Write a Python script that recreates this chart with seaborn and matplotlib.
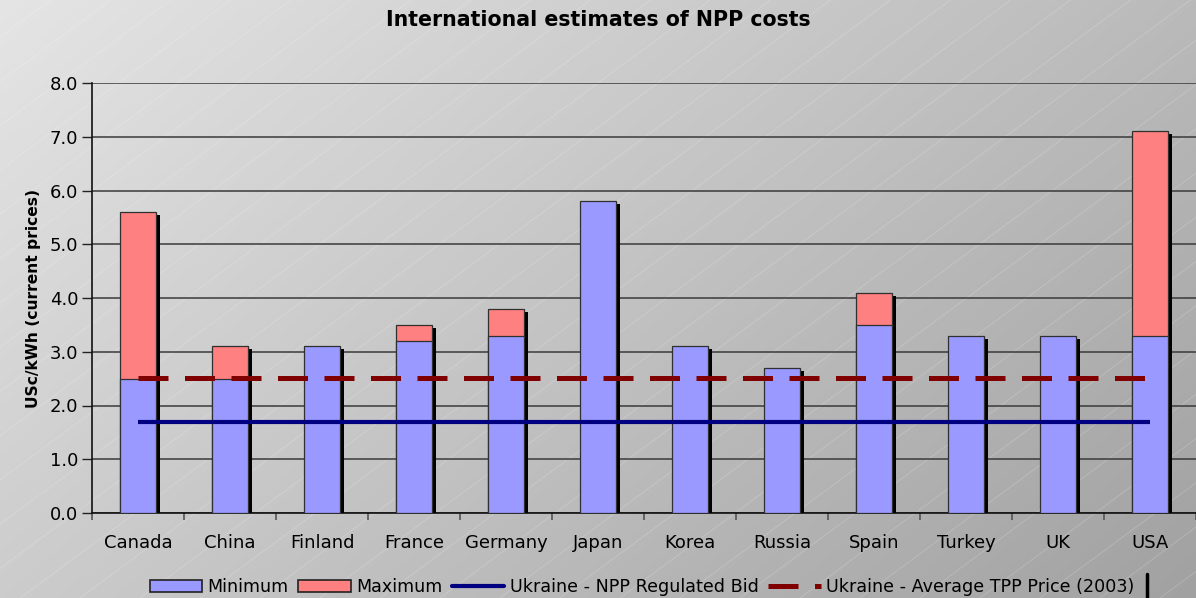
import numpy as np
import pandas as pd
import matplotlib
matplotlib.use("Agg")
import matplotlib.pyplot as plt
import matplotlib.patheffects as pe
from matplotlib.lines import Line2D
from matplotlib.patches import Patch
import seaborn as sns

# Generation cost estimates, US cents per kWh (current prices)
countries = ["Canada", "China", "Finland", "France", "Germany", "Japan",
             "Korea", "Russia", "Spain", "Turkey", "UK", "USA"]
minimum = [2.5, 2.5, 3.1, 3.2, 3.3, 5.8, 3.1, 2.7, 3.5, 3.3, 3.3, 3.3]
maximum = [5.6, 3.1, None, 3.5, 3.8, None, None, None, 4.1, None, None, 7.1]
npp_bid = [1.69, 1.69, 1.69, 1.69, 1.69, 1.69, 1.69, 1.69, 1.69, 1.69, 1.69, 1.69]
tpp_price = [2.52, 2.52, 2.52, 2.52, 2.52, 2.52, 2.52, 2.52, 2.52, 2.52, 2.52, 2.52]
y_ticks = [0, 1, 2, 3, 4, 5, 6, 7, 8]

BLUE_BAR = "#9999ff"
RED_BAR = "#ff8080"
NAVY = "#000080"
MAROON = "#800000"

sns.set_theme(style="white")
plt.rcParams["font.family"] = ["DejaVu Sans"]
plt.rcParams["text.color"] = "black"
plt.rcParams["axes.labelcolor"] = "black"
plt.rcParams["xtick.color"] = "black"
plt.rcParams["ytick.color"] = "black"

W, H, DPI = 1196, 598, 100
fig = plt.figure(figsize=(W / DPI, H / DPI), dpi=DPI)

# Grey gradient backdrop (light top-left, darker bottom-right) with faint hatch lines
bg = fig.add_axes([0, 0, 1, 1], zorder=-10)
yy, xx = np.mgrid[0:H, 0:W]
shade = 229 - 43 * (xx / W) - 25 * (yy / H)
bg.imshow(np.dstack([shade] * 3).astype(np.uint8), aspect="auto",
          extent=(0, W, H, 0), interpolation="bilinear")
for x0 in np.arange(-820, W + 60, 60):
    bg.plot([x0, x0 + 820], [H, H - 605], color="white", lw=0.6, alpha=0.2)
bg.set_xlim(0, W)
bg.set_ylim(H, 0)
bg.axis("off")

ax = fig.add_axes([92 / W, (H - 513) / H, (W - 92) / W, 430 / H])
ax.set_facecolor("none")

df_min = pd.DataFrame({"country": countries, "value": minimum})
df_max = pd.DataFrame({"country": countries, "value": maximum}).dropna()

shadow = [pe.SimplePatchShadow(offset=(2.9, -2.2), shadow_rgbFace="black", alpha=1.0),
          pe.Normal()]

sns.barplot(data=df_max, x="country", y="value", order=countries, color=RED_BAR,
            saturation=1, width=0.4, errorbar=None, edgecolor="#303030",
            linewidth=0.9, ax=ax, zorder=3)
n_red = len(ax.patches)
sns.barplot(data=df_min, x="country", y="value", order=countries, color=BLUE_BAR,
            saturation=1, width=0.4, errorbar=None, edgecolor="#303030",
            linewidth=0.9, ax=ax, zorder=4)
for i, p in enumerate(ax.patches):
    p.set_path_effects(shadow)
    p.set_zorder(3 if i < n_red else 4)

xpos = np.arange(len(countries))
sns.lineplot(x=xpos, y=npp_bid, color=NAVY, lw=3.0, ax=ax, zorder=6,
             solid_capstyle="butt")
sns.lineplot(x=xpos, y=tpp_price, color=MAROON, lw=3.6, ax=ax, zorder=6,
             solid_capstyle="butt")
ax.lines[-1].set_linestyle((0, (6.0, 3.3)))
ax.lines[-1].set_dash_capstyle("butt")

ax.set_xlim(-0.5, len(countries) - 0.5)
ax.set_ylim(0, 8)
ax.set_yticks(y_ticks)
ax.set_yticklabels([f"{v:.1f}" for v in y_ticks], fontsize=13)
ax.yaxis.grid(True, color="#3a3a3a", lw=1.1, zorder=1)
ax.set_axisbelow(True)
ax.set_xticks(xpos)
ax.set_xticklabels(countries, fontsize=13)
ax.set_xticks(np.arange(len(countries) + 1) - 0.5, minor=True)
ax.tick_params(axis="x", which="major", length=0, pad=15)
ax.tick_params(axis="x", which="minor", length=5, width=1.2, color="#555555",
               direction="out", bottom=True)
ax.tick_params(axis="y", length=7, width=1.0, color="#222222", left=True,
               direction="out", pad=3)
for side in ("top", "right"):
    ax.spines[side].set_visible(False)
for side in ("left", "bottom"):
    ax.spines[side].set_color("#111111")
    ax.spines[side].set_linewidth(1.2)
ax.set_xlabel("")
ax.set_ylabel("USc/kWh (current prices)", fontsize=11.2, fontweight="heavy",
              labelpad=6)

fig.text(0.5, 1 - 20 / H, "International estimates of NPP costs", ha="center",
         va="center", fontsize=14.8, fontweight="bold")

handles = [
    Patch(facecolor=BLUE_BAR, edgecolor="#222222", lw=1.2),
    Patch(facecolor=RED_BAR, edgecolor="#222222", lw=1.2),
    Line2D([], [], color=NAVY, lw=3.0),
    Line2D([], [], color=MAROON, lw=3.6, linestyle=(0, (6.0, 3.3))),
]
labels = ["Minimum", "Maximum", "Ukraine - NPP Regulated Bid",
          "Ukraine - Average TPP Price (2003)"]
leg = fig.legend(handles, labels, loc="center", bbox_to_anchor=(642 / W, 1 - 587 / H),
                 ncol=4, frameon=False, handlelength=3.0, handleheight=0.7,
                 handletextpad=0.3, columnspacing=0.55, borderaxespad=0,
                 prop={"size": 12.6})

# right edge of the legend box peeking out at the bottom
fig.add_artist(Line2D([1147 / W, 1147 / W], [0, 24 / H], color="black", lw=2.5,
                      transform=fig.transFigure))

fig.savefig("out.png", dpi=DPI)
